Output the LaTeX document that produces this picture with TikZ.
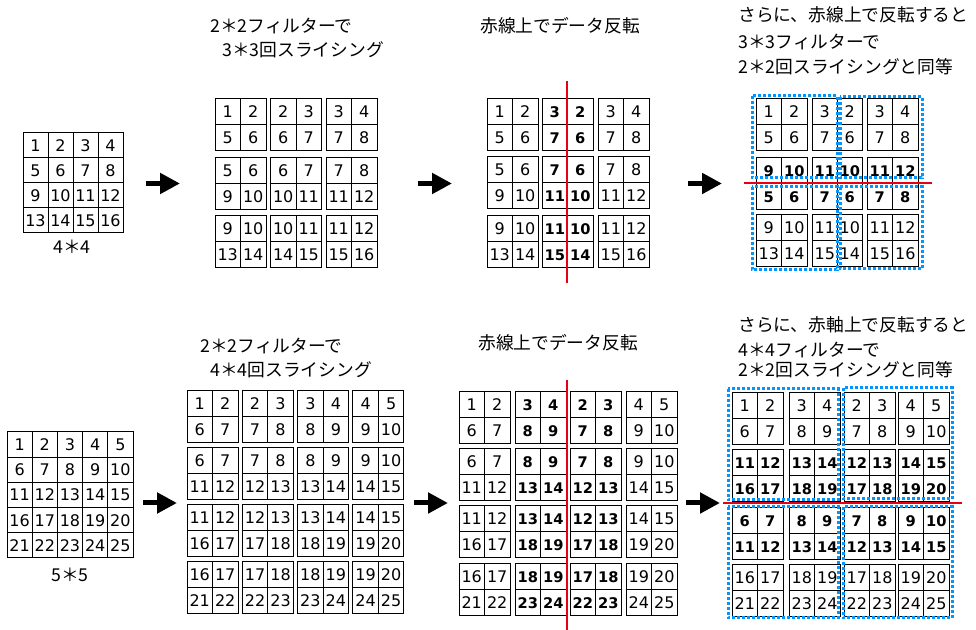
\documentclass[tikz,border=0pt]{standalone}
\usepackage{fontspec}
\setmainfont{Noto Sans CJK JP}
\newfontfamily\numfont{DejaVu Sans}
\usetikzlibrary{arrows.meta}

\definecolor{axisred}{RGB}{230,0,18}
\definecolor{groupblue}{RGB}{0,150,255}

\tikzset{
  cell/.style={draw, line width=0.75pt, inner sep=0pt, outer sep=0pt,
    minimum width=19.125pt, minimum height=19.5pt,
    font=\numfont\fontsize{12}{14}\selectfont},
  bigcell/.style={cell, minimum width=18.75pt, minimum height=18.75pt},
  caption/.style={anchor=west, inner sep=0pt, font=\fontsize{13.3}{15}\selectfont},
  bigarrow/.style={line width=3.75pt, -{Triangle[length=15pt,width=15pt]}},
  axisline/.style={draw=axisred, line width=1.5pt},
  group/.style={draw=groupblue, line width=2.25pt, dash pattern=on 2.25pt off 1.5pt}
}

% bold number in a cell
\newcommand{\bn}[1]{{\bfseries\fontsize{11}{13}\selectfont #1}}
% one slice: name, x, y, top row, bottom row
\newcommand{\slicebox}[5]{%
  \foreach \val [count=\c] in {#4}
    \node[cell, anchor=north west] (#1-1\c) at ({#2+(\c-1)*25.5},{#3}) {\val};
  \foreach \val [count=\c] in {#5}
    \node[cell, anchor=north west] (#1-2\c) at ({#2+(\c-1)*25.5},{#3+26}) {\val};
}

\begin{document}
\begin{tikzpicture}[x=0.75pt, y=-0.75pt]
\useasboundingbox (0,0) rectangle (976,630);

% ---- 4*4 ----
\foreach \r in {1,...,4}
  \foreach \c in {1,...,4} {
    \pgfmathtruncatemacro\n{4*(\r-1)+\c}
    \node[bigcell, anchor=north west] (g\r\c) at ({23+(\c-1)*25},{133+(\r-1)*25}) {\n};
  }
\node[caption, anchor=center] (g-label) at (72,247) {4＊4};

\node[caption] (t1a) at (210,26) {2＊2フィルターで};
\node[caption] (t1b) at (222,50) {3＊3回スライシング};
\foreach \i in {1,2,3}
  \foreach \j in {1,2,3} {
    \pgfmathtruncatemacro\na{4*(\i-1)+\j}
    \pgfmathtruncatemacro\nb{\na+1}
    \pgfmathtruncatemacro\nc{\na+4}
    \pgfmathtruncatemacro\nd{\na+5}
    \slicebox{s\i\j}{215+(\j-1)*55.5}{99+(\i-1)*58.3}{\na,\nb}{\nc,\nd}
  }

\node[caption] (t2) at (480,26) {赤線上でデータ反転};
\slicebox{f11}{487}{99}{1,2}{5,6}
\slicebox{f12}{542}{99}{\bn{3},\bn{2}}{\bn{7},\bn{6}}
\slicebox{f13}{598}{99}{3,4}{7,8}
\slicebox{f21}{487}{157}{5,6}{9,10}
\slicebox{f22}{542}{157}{\bn{7},\bn{6}}{\bn{11},\bn{10}}
\slicebox{f23}{598}{157}{7,8}{11,12}
\slicebox{f31}{487}{216}{9,10}{13,14}
\slicebox{f32}{542}{216}{\bn{11},\bn{10}}{\bn{15},\bn{14}}
\slicebox{f33}{598}{216}{11,12}{15,16}
\draw[axisline] (567,81) -- (567,283);

\node[caption] (t3a) at (738,15) {さらに、赤線上で反転すると};
\node[caption] (t3b) at (738,42) {3＊3フィルターで};
\node[caption] (t3c) at (738,67) {2＊2回スライシングと同等};
\slicebox{r11}{756}{99}{1,2}{5,6}
\slicebox{r12}{812}{99}{3}{7}
\slicebox{r13}{837}{99}{2}{6}
\slicebox{r14}{867}{99}{3,4}{7,8}
\slicebox{r21}{756}{158}{\bn{9},\bn{10}}{\bn{5},\bn{6}}
\slicebox{r22}{812}{158}{\bn{11}}{\bn{7}}
\slicebox{r23}{837}{158}{\bn{10}}{\bn{6}}
\slicebox{r24}{867}{158}{\bn{11},\bn{12}}{\bn{7},\bn{8}}
\slicebox{r31}{756}{215}{9,10}{13,14}
\slicebox{r32}{812}{215}{11}{15}
\slicebox{r33}{837}{215}{10}{14}
\slicebox{r34}{867}{215}{11,12}{15,16}
\draw[axisline] (744,183.5) -- (932,183.5);
\draw[group] (752,96) rectangle (837,178);
\draw[group] (840,97) rectangle (922,178);
\draw[group] (752,187) rectangle (837,270);
\draw[group] (840,187) rectangle (922,269);

\coordinate (a1s) at (146,183.5); \coordinate (a1e) at (180,183.5);
\coordinate (a2s) at (418,183.5); \coordinate (a2e) at (452,183.5);
\coordinate (a3s) at (688,183.5); \coordinate (a3e) at (722,183.5);
\draw[bigarrow] (a1s) -- (a1e);
\draw[bigarrow] (a2s) -- (a2e);
\draw[bigarrow] (a3s) -- (a3e);

% ---- 5*5 ----
\foreach \r in {1,...,5}
  \foreach \c in {1,...,5} {
    \pgfmathtruncatemacro\n{5*(\r-1)+\c}
    \node[bigcell, minimum width=18.9pt, minimum height=18.9pt, anchor=north west]
      (h\r\c) at ({7+(\c-1)*25.2},{432+(\r-1)*25.2}) {\n};
  }
\node[caption, anchor=center] (h-label) at (70,575) {5＊5};

\node[caption] (b1a) at (200,346) {2＊2フィルターで};
\node[caption] (b1b) at (210,370) {4＊4回スライシング};
\foreach \i in {1,...,4}
  \foreach \j in {1,...,4} {
    \pgfmathtruncatemacro\na{5*(\i-1)+\j}
    \pgfmathtruncatemacro\nb{\na+1}
    \pgfmathtruncatemacro\nc{\na+5}
    \pgfmathtruncatemacro\nd{\na+6}
    \slicebox{u\i\j}{187+(\j-1)*55.3}{391+(\i-1)*57}{\na,\nb}{\nc,\nd}
  }

\node[caption] (b2) at (478,343) {赤線上でデータ反転};
\slicebox{v11}{459}{392}{1,2}{6,7}
\slicebox{v12}{515}{392}{\bn{3},\bn{4}}{\bn{8},\bn{9}}
\slicebox{v13}{570}{392}{\bn{2},\bn{3}}{\bn{7},\bn{8}}
\slicebox{v14}{626}{392}{4,5}{9,10}
\slicebox{v21}{459}{449}{6,7}{11,12}
\slicebox{v22}{515}{449}{\bn{8},\bn{9}}{\bn{13},\bn{14}}
\slicebox{v23}{570}{449}{\bn{7},\bn{8}}{\bn{12},\bn{13}}
\slicebox{v24}{626}{449}{9,10}{14,15}
\slicebox{v31}{459}{506}{11,12}{16,17}
\slicebox{v32}{515}{506}{\bn{13},\bn{14}}{\bn{18},\bn{19}}
\slicebox{v33}{570}{506}{\bn{12},\bn{13}}{\bn{17},\bn{18}}
\slicebox{v34}{626}{506}{14,15}{19,20}
\slicebox{v41}{459}{564}{16,17}{21,22}
\slicebox{v42}{515}{564}{\bn{18},\bn{19}}{\bn{23},\bn{24}}
\slicebox{v43}{570}{564}{\bn{17},\bn{18}}{\bn{22},\bn{23}}
\slicebox{v44}{626}{564}{19,20}{24,25}
\draw[axisline] (567,380) -- (567,630);

\node[caption] (b3a) at (738,325) {さらに、赤軸上で反転すると};
\node[caption] (b3b) at (738,350) {4＊4フィルターで};
\node[caption] (b3c) at (738,370) {2＊2回スライシングと同等};
\slicebox{w11}{732}{393}{1,2}{6,7}
\slicebox{w12}{789}{393}{3,4}{8,9}
\slicebox{w13}{844}{393}{2,3}{7,8}
\slicebox{w14}{898}{393}{4,5}{9,10}
\slicebox{w21}{732}{450}{\bn{11},\bn{12}}{\bn{16},\bn{17}}
\slicebox{w22}{789}{450}{\bn{13},\bn{14}}{\bn{18},\bn{19}}
\slicebox{w23}{844}{450}{\bn{12},\bn{13}}{\bn{17},\bn{18}}
\slicebox{w24}{898}{450}{\bn{14},\bn{15}}{\bn{19},\bn{20}}
\slicebox{w31}{732}{508}{\bn{6},\bn{7}}{\bn{11},\bn{12}}
\slicebox{w32}{789}{508}{\bn{8},\bn{9}}{\bn{13},\bn{14}}
\slicebox{w33}{844}{508}{\bn{7},\bn{8}}{\bn{12},\bn{13}}
\slicebox{w34}{898}{508}{\bn{9},\bn{10}}{\bn{14},\bn{15}}
\slicebox{w41}{732}{565}{16,17}{21,22}
\slicebox{w42}{789}{565}{18,19}{23,24}
\slicebox{w43}{844}{565}{17,18}{22,23}
\slicebox{w44}{898}{565}{19,20}{24,25}
\draw[axisline] (723,503) -- (962,503);
\draw[group] (728,389) rectangle (838,500);
\draw[group] (843,388) rectangle (952,499);
\draw[group] (728,507) rectangle (838,618);
\draw[group] (843,507) rectangle (952,618);

\coordinate (c1s) at (143,503); \coordinate (c1e) at (177,503);
\coordinate (c2s) at (414,503); \coordinate (c2e) at (448,503);
\coordinate (c3s) at (686,503); \coordinate (c3e) at (720,503);
\draw[bigarrow] (c1s) -- (c1e);
\draw[bigarrow] (c2s) -- (c2e);
\draw[bigarrow] (c3s) -- (c3e);
\end{tikzpicture}
\end{document}
